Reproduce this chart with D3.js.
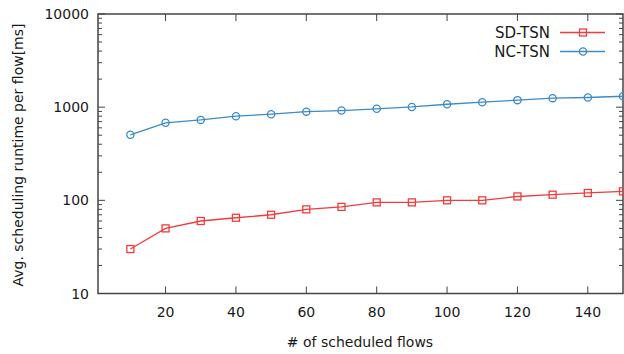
<!DOCTYPE html>
<html>
<head>
<meta charset="utf-8">
<script src="https://cdn.jsdelivr.net/npm/d3@7"></script>
<style>
  body { margin: 0; background: #fff; }
  text { font-family: "DejaVu Sans", Verdana, sans-serif; fill: #1a1a1a; }
</style>
</head>
<body>
<script>
const width = 624, height = 354
const margin = {top: 14, right: 1, bottom: 60.5, left: 98}

// data
const flows = [10, 20, 30, 40, 50, 60, 70, 80, 90, 100, 110, 120, 130, 140, 150]
const sdTsn = [30, 50, 60, 65, 70, 80, 85, 95, 95, 100, 100, 110, 115, 120, 125]
const ncTsn = [505, 680, 730, 800, 840, 895, 920, 960, 1005, 1075, 1130, 1190, 1250, 1270, 1310]
const xTicks = [20, 40, 60, 80, 100, 120, 140]
const yTicks = [10, 100, 1000, 10000]
const seriesNames = ['SD-TSN', 'NC-TSN']
const seriesColors = ['#f03c3c', '#3c8cc8']

const svg = d3.select('body').append('svg')
    .attr('width', width)
    .attr('height', height)

const x = d3.scaleLinear()
    .domain([0.8, 150])
    .range([margin.left, width - margin.right])

const y = d3.scaleLog()
    .domain([10, 10000])
    .range([height - margin.bottom, margin.top])

const axisColor = '#444'

// minor ticks (2..9 of each decade), on left and right, pointing inward
const minor = []
for (let d = 10; d < 10000; d *= 10) {
    for (let k = 2; k <= 9; k++) minor.push(d * k)
}

const ticksG = svg.append('g').attr('stroke', axisColor).attr('stroke-width', 1)

minor.forEach(v => {
    ticksG.append('line').attr('x1', x.range()[0]).attr('x2', x.range()[0] + 4)
        .attr('y1', y(v)).attr('y2', y(v))
    ticksG.append('line').attr('x1', x.range()[1]).attr('x2', x.range()[1] - 4)
        .attr('y1', y(v)).attr('y2', y(v))
})
yTicks.forEach(v => {
    ticksG.append('line').attr('x1', x.range()[0]).attr('x2', x.range()[0] + 7)
        .attr('y1', y(v)).attr('y2', y(v))
    ticksG.append('line').attr('x1', x.range()[1]).attr('x2', x.range()[1] - 7)
        .attr('y1', y(v)).attr('y2', y(v))
})
xTicks.forEach(v => {
    ticksG.append('line').attr('x1', x(v)).attr('x2', x(v))
        .attr('y1', y.range()[0]).attr('y2', y.range()[0] - 7)
    ticksG.append('line').attr('x1', x(v)).attr('x2', x(v))
        .attr('y1', y.range()[1]).attr('y2', y.range()[1] + 7)
})

// frame
svg.append('rect')
    .attr('x', x.range()[0])
    .attr('y', y.range()[1])
    .attr('width', x.range()[1] - x.range()[0])
    .attr('height', y.range()[0] - y.range()[1])
    .attr('fill', 'none')
    .attr('stroke', axisColor)
    .attr('stroke-width', 1.5)

// tick labels
svg.selectAll('.ylab').data(yTicks).enter().append('text')
    .attr('x', x.range()[0] - 9)
    .attr('y', d => y(d) + 5)
    .attr('text-anchor', 'end')
    .attr('font-size', 14)
    .text(d => d)

svg.selectAll('.xlab').data(xTicks).enter().append('text')
    .attr('x', d => x(d))
    .attr('y', 317)
    .attr('text-anchor', 'middle')
    .attr('font-size', 14)
    .text(d => d)

// axis titles
svg.append('text')
    .attr('x', 360)
    .attr('y', 347)
    .attr('text-anchor', 'middle')
    .attr('font-size', 14)
    .text('# of scheduled flows')

svg.append('text')
    .attr('transform', 'translate(23,' + 155 + ') rotate(-90)')
    .attr('text-anchor', 'middle')
    .attr('font-size', 14)
    .text('Avg. scheduling runtime per flow[ms]')

// lines and markers
const line = d3.line()
    .x((d, i) => x(flows[i]))
    .y(d => y(d))

const allSeries = [sdTsn, ncTsn]

allSeries.forEach((vals, s) => {
    svg.append('path')
        .datum(vals)
        .attr('d', line)
        .attr('fill', 'none')
        .attr('stroke', seriesColors[s])
        .attr('stroke-width', 1.3)
})

svg.selectAll('.sq').data(sdTsn).enter().append('rect')
    .attr('x', (d, i) => x(flows[i]) - 3.5)
    .attr('y', d => y(d) - 3.5)
    .attr('width', 7).attr('height', 7)
    .attr('fill', 'none')
    .attr('stroke', seriesColors[0])
    .attr('stroke-width', 1.3)

svg.selectAll('.ci').data(ncTsn).enter().append('circle')
    .attr('cx', (d, i) => x(flows[i]))
    .attr('cy', d => y(d))
    .attr('r', 3.6)
    .attr('fill', 'none')
    .attr('stroke', seriesColors[1])
    .attr('stroke-width', 1.3)

// legend
const legY = [32.5, 51.5]
seriesNames.forEach((name, s) => {
    svg.append('text')
        .attr('x', 550)
        .attr('y', legY[s] + 5)
        .attr('text-anchor', 'end')
        .attr('font-size', 15)
        .text(name)
    svg.append('line')
        .attr('x1', 560).attr('x2', 605)
        .attr('y1', legY[s]).attr('y2', legY[s])
        .attr('stroke', seriesColors[s])
        .attr('stroke-width', 1.3)
})
svg.append('rect')
    .attr('x', 583 - 3.5).attr('y', legY[0] - 3.5)
    .attr('width', 7).attr('height', 7)
    .attr('fill', 'none').attr('stroke', seriesColors[0]).attr('stroke-width', 1.3)
svg.append('circle')
    .attr('cx', 583).attr('cy', legY[1]).attr('r', 3.6)
    .attr('fill', 'none').attr('stroke', seriesColors[1]).attr('stroke-width', 1.3)
</script>
</body>
</html>
